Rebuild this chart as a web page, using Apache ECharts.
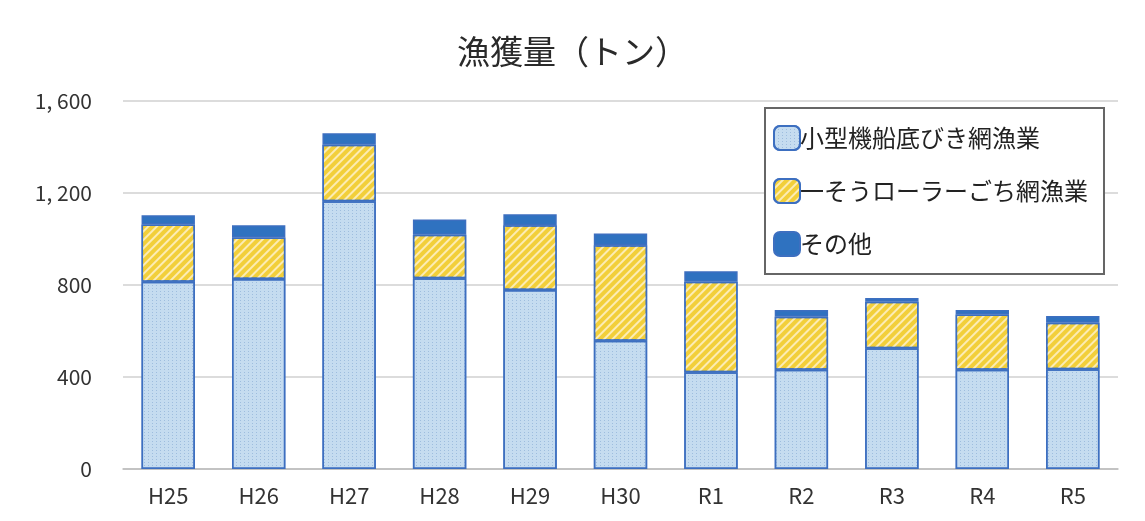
<!DOCTYPE html>
<html><head><meta charset="utf-8">
<script src="https://cdn.jsdelivr.net/npm/echarts@6/dist/echarts.min.js"></script>
<style>html,body{margin:0;padding:0;background:#fff}#c{width:1145px;height:521px}</style>
</head><body><div id="c"></div>
<script>
const categories = ['H25','H26','H27','H28','H29','H30','R1','R2','R3','R4','R5'];
const smallTrawl = [814, 826, 1164, 829, 778, 558, 421, 431, 525, 431, 434];
const rollerNet = [249, 180, 246, 189, 282, 415, 393, 231, 202, 241, 202];
const others = [40, 54, 50, 67, 48, 51, 46, 29, 17, 19, 29];
const seriesNames = ['小型機船底びき網漁業','一そうローラーごち網漁業','その他'];
const yTicks = [0, 400, 800, 1200, 1600];

const font = '"Noto Sans CJK JP", "Noto Sans", sans-serif';
const numFont = '"Liberation Sans Narrow", "Noto Sans CJK JP", sans-serif';
const chart = echarts.init(document.getElementById('c'));
const border = '#3d6fc0';
chart.setOption({
  animation: false,
  backgroundColor: '#fff',
  title: {text: '漁獲量（トン）', left: 'center', top: 30,
    textStyle: {fontFamily: font, fontSize: 33, fontWeight: 'normal', color: '#2a2a2a'}},
  legend: {
    orient: 'vertical', left: 765, top: 108,
    itemWidth: 26, itemHeight: 24, itemGap: 27,
    padding: [17, 16, 17, 8],
    borderColor: '#666', borderWidth: 2, backgroundColor: '#fff',
    textStyle: {fontFamily: font, fontSize: 24, color: '#222', padding: [0,0,0,-5]},
    data: seriesNames
  },
  grid: {left: 123, width: 995, top: 101, bottom: 52},
  xAxis: {type: 'category', data: categories,
    axisLine: {lineStyle: {color: '#bbb', width: 1.5}}, axisTick: {show: false},
    axisLabel: {fontFamily: numFont, fontSize: 22, color: '#333', margin: 16}},
  yAxis: {type: 'value', min: 0, max: 1600, interval: 400,
    axisLine: {show: false}, axisTick: {show: false},
    splitLine: {lineStyle: {color: '#d0d0d0', width: 1.5}},
    axisLabel: {fontFamily: numFont, fontSize: 21, color: '#333', margin: 31,
      formatter: v => yTicks.includes(v) ? (v >= 1000 ? Math.floor(v/1000) + ', ' + String(v%1000).padStart(3,'0') : String(v)) : ''}},
  series: [
    {name: seriesNames[0], type: 'bar', stack: 't', data: smallTrawl, barWidth: '59%',
      itemStyle: {color: '#c5dcf0', borderColor: border, borderWidth: 1.5,
        decal: {symbol: 'rect', symbolSize: 1, dashArrayX: [[1, 3]], dashArrayY: [1, 2], color: 'rgba(110,150,200,0.45)'}}},
    {name: seriesNames[1], type: 'bar', stack: 't', data: rollerNet,
      itemStyle: {color: '#f2cf3a', borderColor: border, borderWidth: 1.5,
        decal: {symbol: 'rect', symbolSize: 1, dashArrayX: [1, 0], dashArrayY: [2, 4], rotation: -Math.PI/4, color: 'rgba(255,245,220,0.75)'}}},
    {name: seriesNames[2], type: 'bar', stack: 't', data: others,
      itemStyle: {color: '#2f72c0', borderColor: border, borderWidth: 1.5}}
  ]
});
</script></body></html>
